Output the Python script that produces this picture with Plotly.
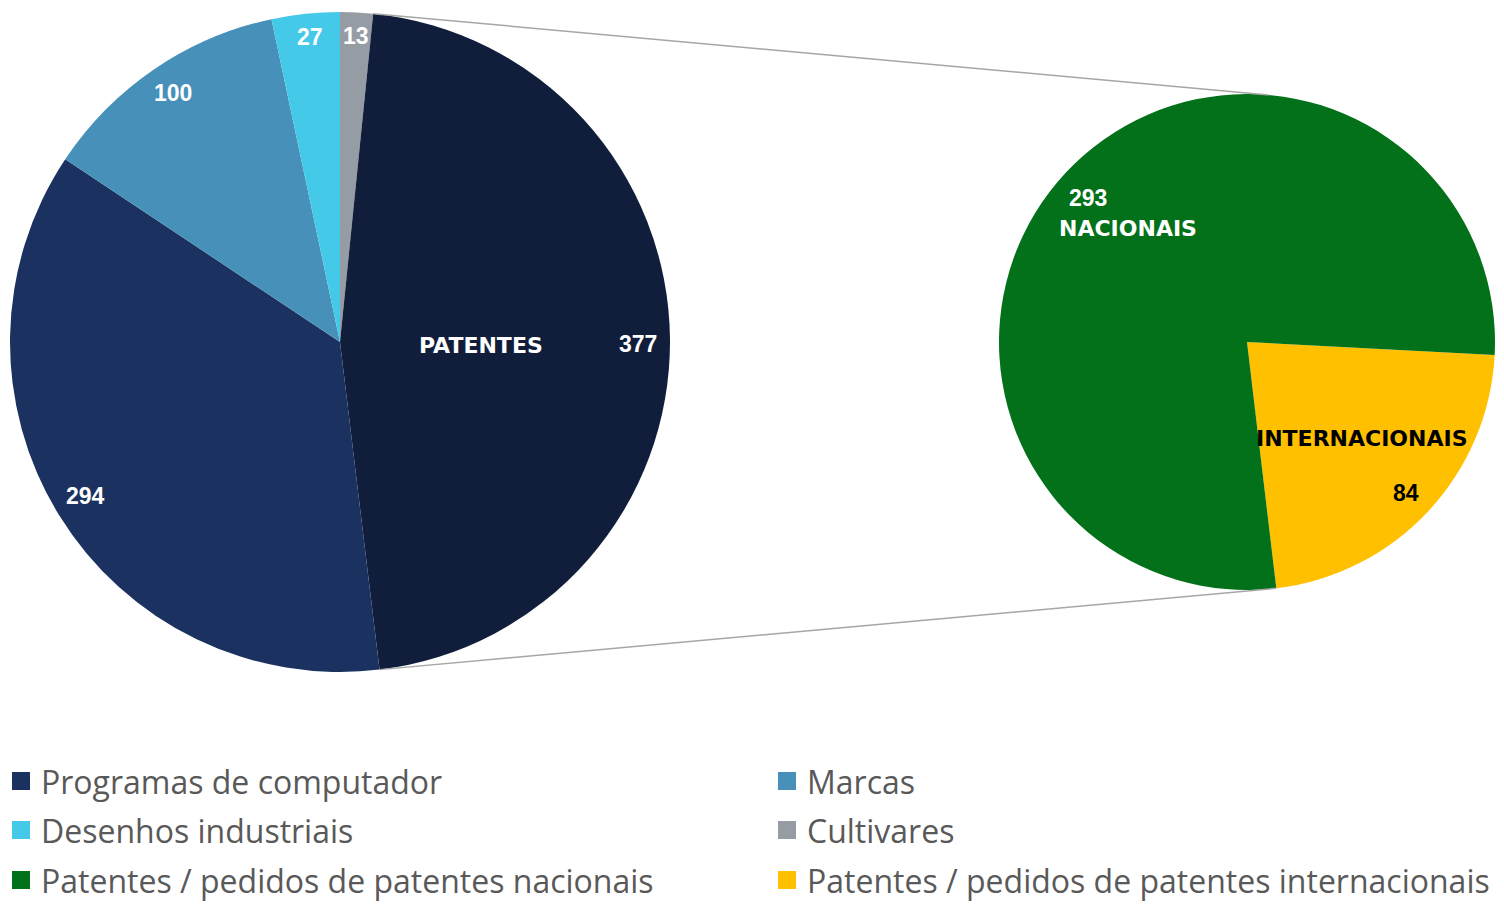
import math
import plotly.graph_objects as go

W, H = 1504, 914

# ---- data ----
main_labels = ["Cultivares", "Patentes", "Programas de computador", "Marcas", "Desenhos industriais"]
main_values = [13, 377, 294, 100, 27]
main_colors = ["#959ca4", "#111e3b", "#1b3260", "#4690b9", "#45c9e8"]

sub_labels = ["Patentes / pedidos de patentes internacionais", "Patentes / pedidos de patentes nacionais"]
sub_values = [84, 293]
sub_colors = ["#ffc000", "#037119"]

legend_labels = ["Programas de computador", "Marcas", "Desenhos industriais", "Cultivares",
                 "Patentes / pedidos de patentes nacionais", "Patentes / pedidos de patentes internacionais"]
legend_colors = ["#1b3260", "#4690b9", "#45c9e8", "#959ca4", "#037119", "#ffc000"]


def px(x):
    return x / W


def py(y):
    return (H - y) / H


# geometry (pixels)
LC, LR = (340, 342), 330
RC, RR = (1247, 342), 248
SUB_ROT = 93

fig = go.Figure()
fig.add_trace(go.Pie(
    labels=main_labels, values=main_values, sort=False, direction="clockwise", rotation=0,
    marker=dict(colors=main_colors, line=dict(width=0)), textinfo="none", hoverinfo="label+value",
    showlegend=False,
    domain=dict(x=[px(LC[0] - LR), px(LC[0] + LR)], y=[py(LC[1] + LR), py(LC[1] - LR)]),
))
fig.add_trace(go.Pie(
    labels=sub_labels, values=sub_values, sort=False, direction="clockwise", rotation=SUB_ROT,
    marker=dict(colors=sub_colors, line=dict(width=0)), textinfo="none", hoverinfo="label+value",
    showlegend=False,
    domain=dict(x=[px(RC[0] - RR), px(RC[0] + RR)], y=[py(RC[1] + RR), py(RC[1] - RR)]),
))

# connector lines from the Patentes slice edges to the secondary pie
tot = sum(main_values)
a0 = main_values[0] / tot * 360
a1 = (main_values[0] + main_values[1]) / tot * 360
b_end = SUB_ROT + sub_values[0] / sum(sub_values) * 360


def pt(c, r, ang):
    a = math.radians(ang)
    return c[0] + r * math.sin(a), c[1] - r * math.cos(a)


p_top_l = pt(LC, LR, a0)
p_bot_l = pt(LC, LR, a1)
p_top_r = pt(RC, RR, 5)
p_bot_r = pt(RC, RR, b_end)
shapes = []
for p, q in [(p_top_l, p_top_r), (p_bot_l, p_bot_r)]:
    shapes.append(dict(type="line", xref="paper", yref="paper",
                       x0=px(p[0]), y0=py(p[1]), x1=px(q[0]), y1=py(q[1]),
                       line=dict(color="#a6a6a6", width=1.5)))

annotations = []


def ann(text, x, y, color="white", family="Liberation Sans", size=23, bold=True):
    t = f"<b>{text}</b>" if bold else text
    annotations.append(dict(text=t, x=px(x), y=py(y), xref="paper", yref="paper",
                            showarrow=False, xanchor="center", yanchor="middle",
                            font=dict(color=color, family=family, size=size)))


ann(str(main_values[0]), 356, 36)
ann(str(main_values[4]), 310, 37)
ann(str(main_values[3]), 173, 93)
ann(str(main_values[2]), 85, 496)
ann(str(main_values[1]), 638, 344)
ann("PATENTES", 481, 346, family="DejaVu Sans", size=22)
ann(str(sub_values[1]), 1088, 198)
ann("NACIONAIS", 1128, 228, family="DejaVu Sans", size=22)
ann("INTERNACIONAIS", 1362, 438, color="black", family="DejaVu Sans", size=22)
ann(str(sub_values[0]), 1406, 493, color="black")

# custom legend: two columns
col_x = [12, 778]
row_y = [781, 830, 880]
for i, (lab, col) in enumerate(zip(legend_labels, legend_colors)):
    cx = col_x[i % 2]
    cy = row_y[i // 2]
    shapes.append(dict(type="rect", xref="paper", yref="paper",
                       x0=px(cx), x1=px(cx + 18), y0=py(cy + 9), y1=py(cy - 9),
                       fillcolor=col, line=dict(width=0)))
    annotations.append(dict(text=lab, x=px(cx + 27), y=py(cy), xref="paper", yref="paper",
                            showarrow=False, xanchor="left", yanchor="middle",
                            font=dict(color="#595959", family="Open Sans", size=32)))

fig.update_layout(
    width=W, height=H, margin=dict(l=0, r=0, t=0, b=0),
    paper_bgcolor="white", plot_bgcolor="white",
    shapes=shapes, annotations=annotations, showlegend=False,
)
fig.write_html("out.html")
